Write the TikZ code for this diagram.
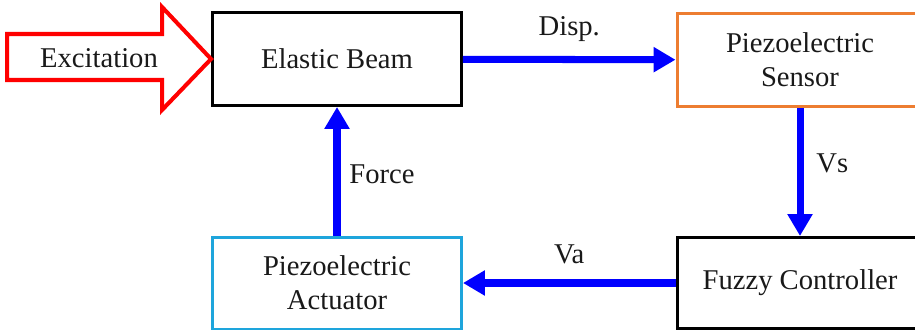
\documentclass[tikz,border=0pt]{standalone}
\usepackage{fontspec}
\setmainfont{Liberation Serif}
\usetikzlibrary{arrows.meta,positioning,calc}
\definecolor{sensorcol}{RGB}{237,125,49}
\definecolor{actcol}{RGB}{30,165,220}
\definecolor{textcol}{RGB}{25,25,25}

\begin{document}
\begin{tikzpicture}[x=0.02cm,y=-0.02cm,>={Triangle[length=0.44cm,width=0.48cm]},
  block/.style={draw,line width=1.7pt,fill=white,align=center,text=textcol,
    font=\fontsize{16.3}{19.5}\selectfont,minimum height=1.86cm,inner sep=0pt},
  flow/.style={->,blue,line width=4pt},
  lbl/.style={text=textcol,font=\fontsize{16.3}{19.5}\selectfont}]
\useasboundingbox (0,0) rectangle (915,331);
\clip (0,0) rectangle (915,331);
% blocks
\node[block,minimum width=4.98cm] (beam) at (337,59) {Elastic Beam};
\node[block,draw=sensorcol,minimum width=4.92cm] (sensor) at (800,60) {Piezoelectric\\Sensor};
\node[block,minimum width=4.92cm,minimum height=1.82cm] (fuzzy) at (800,283) {Fuzzy Controller};
\node[block,draw=actcol,minimum width=4.98cm,minimum height=1.84cm] (act) at (337,283) {Piezoelectric\\Actuator};
% excitation input
\draw[red,line width=2.3pt,line join=miter]
  (beam.west) -- ++(-49,-52) -- ++(0,27) -- ++(-155,0) -- ++(0,46)
  -- ++(155,0) -- ++(0,30) -- cycle;
\node[lbl] (exc) at (99,58) {Excitation};
% signal paths
\draw[flow] (beam) -- (sensor) node[lbl,midway,above=0.18cm] (disp) {Disp.};
\draw[flow] (sensor) -- (fuzzy) node[lbl,midway,right=0.14cm,yshift=0.18cm] (vs) {Vs};
\draw[flow] (fuzzy) -- (act) node[lbl,midway,above=0.2cm] (va) {Va};
\draw[flow] (act) -- (beam) node[lbl,midway,right=0.06cm,yshift=-0.06cm] (force) {Force};
\end{tikzpicture}
\end{document}
